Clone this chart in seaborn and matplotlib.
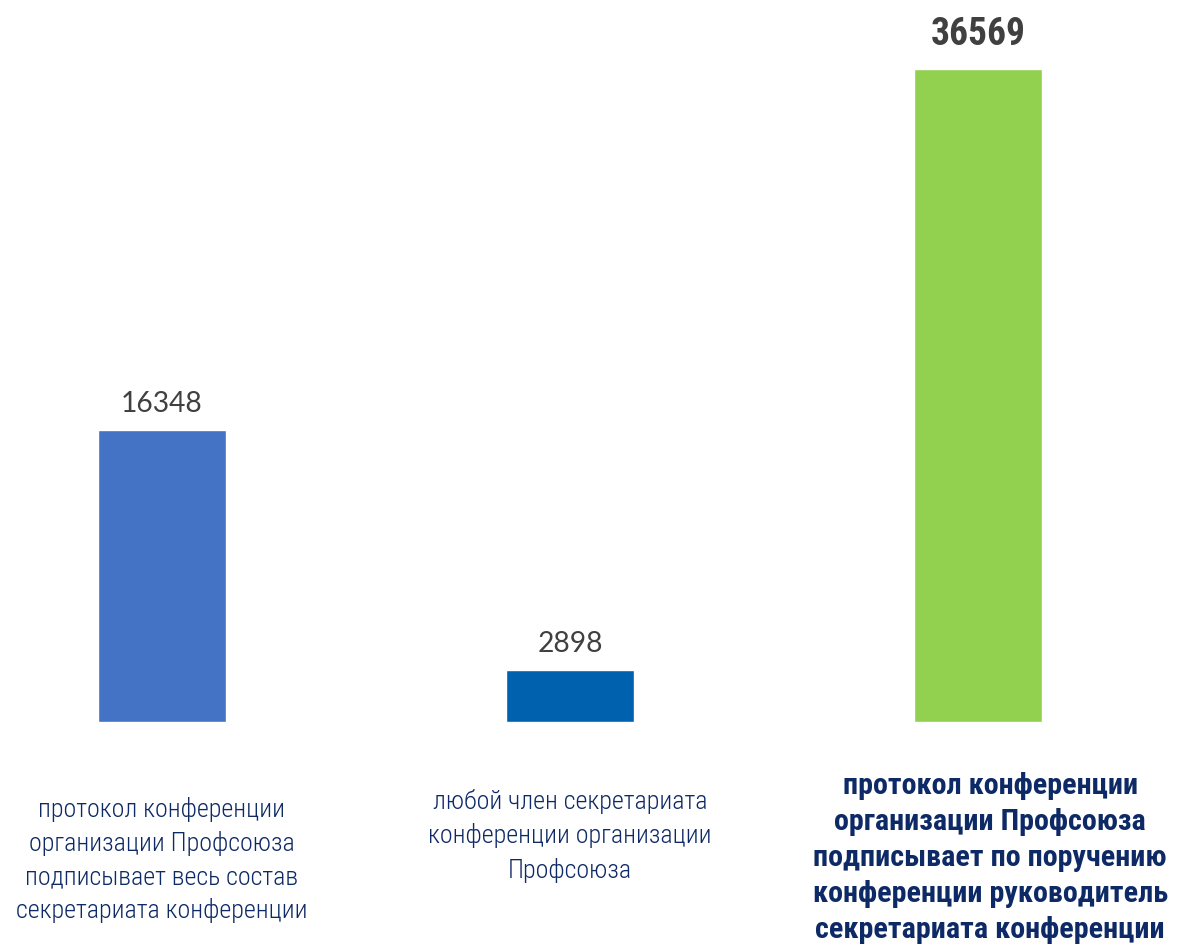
import matplotlib
matplotlib.use("Agg")
import matplotlib.pyplot as plt
import matplotlib.transforms as mtransforms
from matplotlib import font_manager
import seaborn as sns
import pandas as pd

categories = [
    "протокол конференции\nорганизации Профсоюза\nподписывает весь состав\nсекретариата конференции",
    "любой член секретариата\nконференции организации\nПрофсоюза",
    "протокол конференции\nорганизации Профсоюза\nподписывает по поручению\nконференции руководитель\nсекретариата конференции",
]
values = [16348, 2898, 36569]
colors = ["#4472C4", "#0061AE", "#92D050"]

sns.set_theme(style="white")

available = {f.name for f in font_manager.fontManager.ttflist}
def pick(cands):
    for c in cands:
        if c in available:
            return c
    return "DejaVu Sans"

cond = pick(["Roboto Condensed", "Liberation Sans Narrow", "Roboto", "DejaVu Sans"])
num_font = pick(["Lato", "Open Sans", "DejaVu Sans"])

df = pd.DataFrame({"cat": [f"c{i}" for i in range(3)], "val": values})

fig = plt.figure(figsize=(11.78, 9.52), dpi=100)
ax = fig.add_axes([0, (952 - 722) / 952, 1, 653 / 952])
sns.barplot(data=df, x="cat", y="val", hue="cat", palette=colors, legend=False,
            width=128 / 408, ax=ax, saturation=1)
ax.set_xlim(-162 / 408, 2 + (1178 - 978) / 408)
ax.set_ylim(0, values[2])
ax.axis("off")

for i, v in enumerate(values):
    if i == 2:
        ax.annotate(str(v), (i, v), xytext=(0, 25), textcoords="offset points",
                    ha="center", va="center", fontsize=27, fontweight="bold",
                    family=[cond, "DejaVu Sans"], color="#404040", annotation_clip=False)
    else:
        ax.annotate(str(v), (i, v), xytext=(0, 19), textcoords="offset points",
                    ha="center", va="center", fontsize=20.3, family=[num_font, "DejaVu Sans"],
                    color="#404040", annotation_clip=False)

trans = mtransforms.blended_transform_factory(ax.transData, ax.transAxes)
label_pos = [(0, 860, 300, 18.7, 1.46), (0, 836, 300, 18.7, 1.46), (0.03, 858, "bold", 21.7, 1.36)]
for i, (dx, py, w, fs, ls) in enumerate(label_pos):
    ax.text(i + dx, (722 - py) / 653, categories[i], transform=trans, ha="center", va="center",
            multialignment="center", fontsize=fs, fontweight=w, family=[cond, "DejaVu Sans"],
            color="#0E2A66", linespacing=ls, clip_on=False)

fig.savefig("out.png", dpi=100)
